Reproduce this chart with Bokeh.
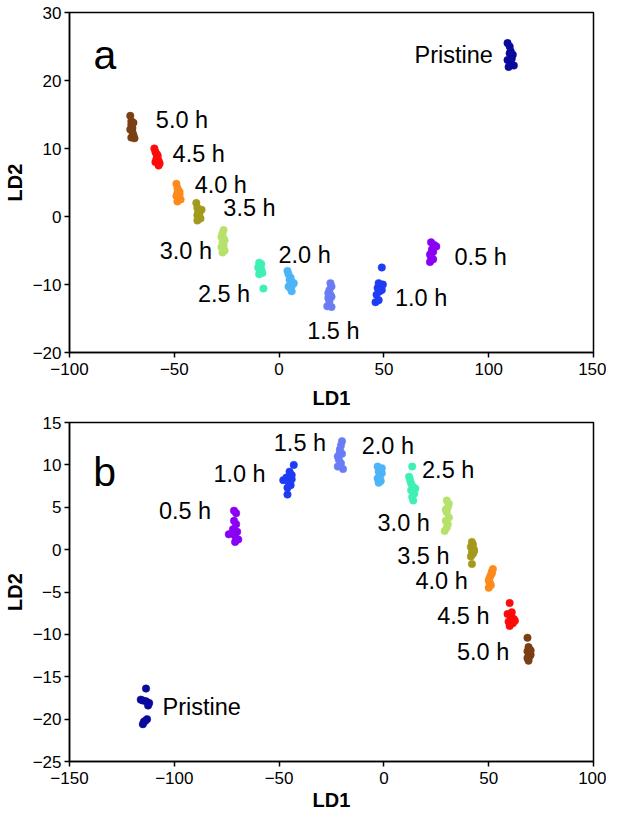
from bokeh.plotting import figure
from bokeh.layouts import column
from bokeh.models import ColumnDataSource, FixedTicker, Range1d
from bokeh.core.properties import value
from bokeh.embed import file_html
from bokeh.resources import INLINE

groups = ["Pristine", "0.5 h", "1.0 h", "1.5 h", "2.0 h", "2.5 h",
          "3.0 h", "3.5 h", "4.0 h", "4.5 h", "5.0 h"]
colors = ["#0a0a9c", "#8a00f5", "#1f3cf5", "#6a7cf5", "#4cb4f7", "#3ff0b4",
          "#b6e26c", "#a39a1c", "#ff8a1c", "#ff0a0a", "#7a3f12"]

# ---- panel a data (LD1, LD2) ----
a_x = [
    [109, 110, 110.5, 111.5, 109, 110.5, 112, 109.5, 110, 111],
    [72.5, 74, 75, 73, 73.5, 72, 72.5, 73.5, 72, 73],
    [49, 47.5, 48.5, 49.5, 47, 48, 46.5, 47.5, 49, 46],
    [24.5, 25, 24, 23.5, 24.5, 25, 23.5, 24, 23, 25],
    [4, 4.5, 5.5, 5, 6, 6.5, 4.5, 5.5, 7, 6],
    [-9.5, -9, -10, -8.5, -9, -8, -9.5, -8.5, -7.5],
    [-26.5, -27, -27.5, -26, -27, -26.5, -27.5, -26, -27, -26.5],
    [-39.5, -39, -38.5, -38, -39, -38, -37.5, -39, -38.5, -37],
    [-49, -48.5, -48, -48.5, -47.5, -49, -48, -47, -48.5, -47.5],
    [-59.5, -59, -58.5, -58, -58.5, -57.5, -57, -57.5, -59, -58],
    [-71, -70.5, -70.5, -70, -70, -69.5, -70.5, -69, -71, -69.5],
]
a_y = [
    [25.5, 25.0, 24.3, 23.8, 23.0, 22.5, 22.2, 22.0, 24.0, 23.2],
    [-3.8, -4.2, -4.4, -4.8, -5.2, -5.6, -6.0, -6.3, -6.7, -5.0],
    [-7.5, -9.8, -10.2, -10.0, -10.5, -11.0, -11.5, -12.3, -10.8, -12.6],
    [-9.8, -10.3, -10.8, -11.3, -11.5, -11.8, -12.0, -12.5, -13.2, -13.3],
    [-8.0, -8.5, -9.0, -9.3, -9.6, -10.0, -10.3, -10.6, -9.8, -11.0],
    [-6.8, -7.2, -7.5, -7.8, -8.0, -8.3, -8.5, -7.0, -10.6],
    [-2.0, -2.5, -3.0, -3.5, -3.8, -4.2, -4.5, -5.0, -5.3, -3.2],
    [2.0, 1.3, 0.8, 0.5, 0.2, 0.0, -0.3, -0.6, 0.6, 1.0],
    [4.8, 4.2, 3.8, 3.5, 3.2, 3.0, 2.8, 2.5, 2.2, 3.6],
    [10.0, 9.5, 9.2, 8.8, 8.5, 8.2, 7.8, 7.5, 8.0, 9.0],
    [14.8, 14.0, 13.5, 13.0, 12.5, 12.0, 11.6, 11.5, 12.8, 13.8],
]
# label anchors for panel a
a_lab_x = [102, 83.7, 55.3, 13.4, -0.3, -13.8, -32, -26.6, -40.3, -50.8, -58.8]
a_lab_y = [23.7, -6.0, -12.0, -16.8, -5.7, -11.4, -5.1, 1.2, 4.7, 9.2, 14.2]
a_lab_align = ["right", "left", "left", "left", "left", "right", "right",
               "left", "left", "left", "left"]

# ---- panel b data (LD1, LD2) ----
b_x = [
    [-113.5, -116, -115, -113.5, -112, -112.5, -113, -114.5, -115, -113.8],
    [-71.5, -70.5, -71.5, -70.5, -72, -70, -74, -71, -69.5, -71],
    [-43, -45, -44, -46.5, -48, -45.5, -44.5, -46, -44, -46],
    [-20, -20.5, -21, -20, -22, -21.5, -20.5, -22, -19.5, -21],
    [-3, -1.5, -2.5, -1, -2, -3, -1.5, -2.5, -1, -2],
    [13.5, 12, 12.5, 13, 14, 13, 14.5, 13.5, 14, 15],
    [30, 31, 30.5, 29.5, 30, 31, 29.5, 30.5, 30, 29],
    [42, 42.5, 41.5, 43, 42, 42.5, 41.5, 43, 42, 42],
    [52, 51.5, 51, 50.5, 50, 50.5, 51, 50, 51.5, 50.5],
    [60, 59, 60.5, 61, 62, 59.5, 61.5, 60, 62.5, 61],
    [68.5, 69, 69.5, 68.5, 69, 70, 69.5, 68.5, 69, 70],
]
b_y = [
    [-16.4, -17.7, -17.8, -17.9, -18.1, -18.4, -20.0, -20.3, -20.6, -20.2],
    [4.6, 4.3, 3.4, 3.0, 2.4, 2.1, 1.8, 1.6, 1.2, 0.9],
    [10.0, 9.2, 8.8, 8.5, 8.2, 8.0, 7.6, 7.3, 8.3, 6.5],
    [12.8, 12.3, 11.8, 11.3, 11.0, 10.6, 10.2, 9.8, 9.5, 11.5],
    [9.8, 9.5, 9.2, 9.0, 8.7, 8.4, 8.1, 7.9, 9.6, 8.5],
    [9.8, 8.6, 8.2, 7.8, 7.4, 7.0, 6.6, 6.2, 5.8, 7.2],
    [5.8, 5.4, 5.0, 4.7, 4.4, 3.8, 3.4, 3.0, 2.6, 2.2],
    [0.9, 0.6, 0.3, 0.0, -0.3, -0.5, -0.8, -0.2, 0.5, -1.7],
    [-2.3, -2.6, -3.0, -3.3, -3.6, -3.9, -4.2, -4.5, -2.8, -4.0],
    [-6.3, -7.6, -7.8, -8.0, -8.2, -8.5, -8.7, -9.0, -8.4, -7.4],
    [-10.4, -11.5, -11.8, -12.0, -12.2, -12.4, -12.6, -12.8, -13.1, -11.9],
]
b_lab_x = [-105.6, -82.4, -56.4, -27.6, -10.6, 18.2, 21.9, 31.3, 40.0, 50.4, 59.8]
b_lab_y = [-18.6, 4.6, 8.9, 12.6, 12.2, 9.4, 3.2, -0.7, -3.7, -7.8, -12.1]
b_lab_align = ["left", "right", "right", "right", "left", "left", "right",
               "right", "right", "right", "right"]

a_xticks = [-100, -50, 0, 50, 100, 150]
a_yticks = [-20, -10, 0, 10, 20, 30]
b_xticks = [-150, -100, -50, 0, 50, 100]
b_yticks = [-25, -20, -15, -10, -5, 0, 5, 10, 15]

FONT = "Liberation Sans"


def minus(v):
    return str(v).replace("-", "\u2212")


def make_panel(xs, ys, lab_x, lab_y, lab_align, xticks, yticks, letter,
               letter_pos, height, top, bottom, tick_standoff, label_standoff):
    p = figure(width=606, height=height,
               x_range=Range1d(xticks[0], xticks[-1]),
               y_range=Range1d(yticks[0], yticks[-1]),
               output_backend="svg", toolbar_location=None,
               min_border_left=64, min_border_right=13,
               min_border_top=top, min_border_bottom=bottom)
    p.grid.visible = False
    p.outline_line_color = "black"
    p.outline_line_width = 1.5
    p.background_fill_color = "white"
    p.border_fill_color = "white"
    for ax, ticks in ((p.xaxis[0], xticks), (p.yaxis[0], yticks)):
        ax.ticker = FixedTicker(ticks=ticks)
        ax.major_label_overrides = {t: minus(t) for t in ticks}
        ax.axis_line_color = "black"
        ax.axis_line_width = 1.5
        ax.major_tick_line_color = "black"
        ax.major_tick_line_width = 1.5
        ax.major_tick_out = 5
        ax.major_tick_in = 0
        ax.minor_tick_line_color = None
        ax.major_label_text_font = FONT
        ax.major_label_text_font_size = "17px"
        ax.major_label_text_color = "black"
        ax.axis_label_text_font = FONT
        ax.axis_label_text_font_size = "20px"
        ax.axis_label_text_font_style = "bold"
        ax.axis_label_text_color = "black"
    p.xaxis.major_label_standoff = tick_standoff
    p.xaxis.axis_label_standoff = label_standoff
    p.yaxis.major_label_standoff = 3
    p.yaxis.axis_label_standoff = 4
    p.xaxis.axis_label = "LD1"
    p.yaxis.axis_label = "LD2"

    for g, c, x, y in zip(groups, colors, xs, ys):
        src = ColumnDataSource(dict(x=x, y=y))
        p.scatter("x", "y", source=src, size=7.5, fill_color=c, line_color=c,
                  line_width=0.5)

    for align in ("left", "right"):
        idx = [i for i, a in enumerate(lab_align) if a == align]
        src = ColumnDataSource(dict(x=[lab_x[i] for i in idx],
                                    y=[lab_y[i] for i in idx],
                                    t=[groups[i] for i in idx]))
        p.text("x", "y", text="t", source=src, text_font=value(FONT),
               text_font_size="23.5px", text_align=align,
               text_baseline="middle", text_color="black")

    p.text(x=[letter_pos[0]], y=[letter_pos[1]], text=[letter],
           text_font=value(FONT), text_font_size="41px",
           text_align="left", text_baseline="alphabetic", text_color="black")
    return p


pa = make_panel(a_x, a_y, a_lab_x, a_lab_y, a_lab_align, a_xticks, a_yticks,
                "a", (-88.6, 23.7), 412, 12, 60, 5, 9)
pb = make_panel(b_x, b_y, b_lab_x, b_lab_y, b_lab_align, b_xticks, b_yticks,
                "b", (-138.7, 9.2), 403, 10, 54, 5, 2)

layout = column(pa, pb, spacing=0)
open("out.html", "w").write(file_html(layout, INLINE))
